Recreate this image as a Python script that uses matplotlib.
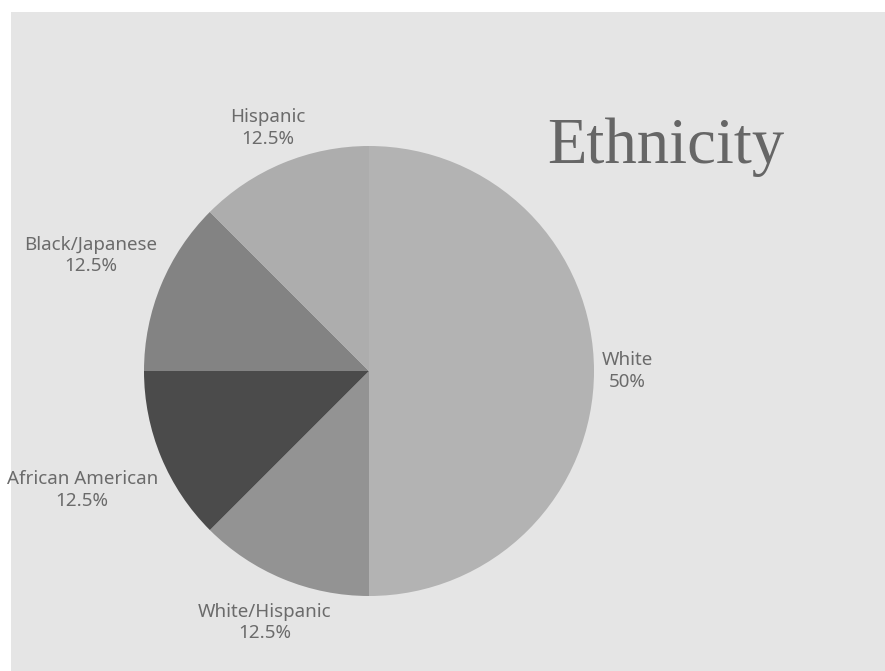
import matplotlib.pyplot as plt
import matplotlib.patches as mpatches
import numpy as np

# data
ethnicities = ['White', 'White/Hispanic', 'African American', 'Black/Japanese', 'Hispanic']
shares = [50, 12.5, 12.5, 12.5, 12.5]
pct_labels = ['50%', '12.5%', '12.5%', '12.5%', '12.5%']
colors = ['#b3b3b3', '#939393', '#4b4b4b', '#838383', '#adadad']
label_dist = [1.15, 1.21, 1.38, 1.34, 1.17]

W, H = 885, 671
fig = plt.figure(figsize=(W / 100, H / 100), dpi=100, facecolor='white')

# grey panel (leaves a thin white strip on the left and top)
fig.patches.append(mpatches.Rectangle((11 / W, 0), 1 - 11 / W, 1 - 12 / H,
                                      transform=fig.transFigure, facecolor='#e5e5e5',
                                      edgecolor='none', zorder=-5))

cx, cy, r = 369, H - 371, 225
ax = fig.add_axes([(cx - r) / W, (cy - r) / H, 2 * r / W, 2 * r / H])
ax.set_facecolor('none')
ax.set_zorder(2)

wedges, _ = ax.pie(shares, colors=colors, startangle=90, counterclock=False,
                   wedgeprops=dict(linewidth=0))
ax.set_xlim(-1, 1)
ax.set_ylim(-1, 1)
ax.set_aspect('equal')
ax.axis('off')

for w, name, pct, d in zip(wedges, ethnicities, pct_labels, label_dist):
    ang = np.deg2rad((w.theta1 + w.theta2) / 2)
    ax.text(d * np.cos(ang), d * np.sin(ang), name + '\n' + pct,
            ha='center', va='center', fontsize=13.5, color='#6b6b6b',
            family='Noto Sans', linespacing=1.25, clip_on=False)

fig.text(666 / W, 1 - 163 / H, 'Ethnicity', ha='center', va='baseline',
         fontsize=46.5, color='#666666', family='Liberation Serif', zorder=3)

fig.savefig('out.png', dpi=100, facecolor=fig.get_facecolor())
